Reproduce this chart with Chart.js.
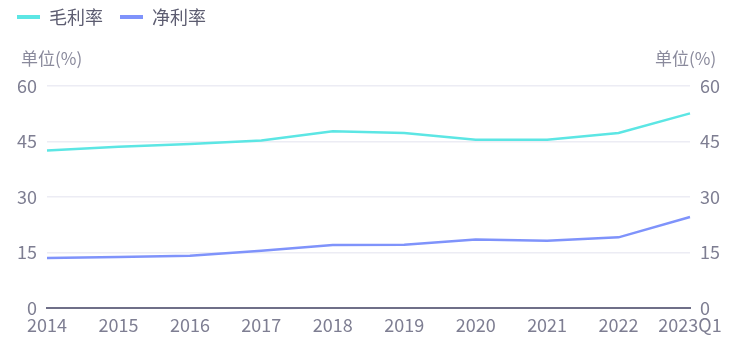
<!DOCTYPE html>
<html>
<head>
<meta charset="utf-8">
<script src="https://cdn.jsdelivr.net/npm/chart.js@4/dist/chart.umd.min.js"></script>
<style>
  body { margin: 0; background: #fff; }
  #wrap { position: relative; width: 743px; height: 349px; }
  .unit { position: absolute; top: 45px; font: 17px "Noto Sans CJK SC", sans-serif; color: #8a8a9c; }
</style>
</head>
<body>
<div id="wrap">
  <canvas id="myChart" width="743" height="349"></canvas>
  <span class="unit" style="left:21px">单位(%)</span>
  <span class="unit" style="left:655px">单位(%)</span>
</div>
<script>
'use strict';

var years = ['2014', '2015', '2016', '2017', '2018', '2019', '2020', '2021', '2022', '2023Q1'];
var grossMargin = [42.6, 43.6, 44.3, 45.3, 47.8, 47.3, 45.5, 45.5, 47.3, 52.6];
var netMargin = [13.5, 13.8, 14.1, 15.5, 17.0, 17.1, 18.5, 18.2, 19.1, 24.6];
var yTicks = [0, 15, 30, 45, 60];

var fontFamily = '"Noto Sans CJK SC", sans-serif';
var tickColor = '#7e7e92';

// legend band: fixed height so the plot starts where the reference does,
// and the items are nudged up into the corner
var legendSpacer = {
    id: 'legendSpacer',
    beforeInit: function (chart) {
        var legend = chart.legend;
        var fit = legend.fit;
        legend.fit = function () {
            fit.call(this);
            this.height = 86;
        };
        var draw = legend.draw;
        legend.draw = function () {
            var c = this.ctx;
            c.save();
            c.translate(0, -9);
            draw.call(this);
            c.restore();
        };
    }
};

var ctx = document.getElementById('myChart').getContext('2d');
var chart = new Chart(ctx, {
    type: 'line',
    data: {
        labels: years,
        datasets: [{
            label: '毛利率',
            data: grossMargin,
            borderColor: '#5ce6e4',
            backgroundColor: '#5ce6e4',
            borderWidth: 2.5,
            pointRadius: 0,
            yAxisID: 'y'
        }, {
            label: '净利率',
            data: netMargin,
            borderColor: '#7f93fb',
            backgroundColor: '#7f93fb',
            borderWidth: 2.5,
            pointRadius: 0,
            yAxisID: 'y1'
        }]
    },
    options: {
        responsive: false,
        animation: false,
        layout: { padding: 0 },
        plugins: {
            tooltip: { enabled: false },
            legend: {
                position: 'top',
                align: 'start',
                labels: {
                    font: { family: fontFamily, size: 18 },
                    color: '#5c5c70',
                    boxWidth: 23,
                    boxHeight: 4,
                    padding: 17,
                    generateLabels: function (c) {
                        return c.data.datasets.map(function (ds, i) {
                            return {
                                text: ds.label,
                                fillStyle: ds.borderColor,
                                strokeStyle: ds.borderColor,
                                lineWidth: 0,
                                fontColor: '#5c5c70',
                                datasetIndex: i
                            };
                        });
                    }
                }
            }
        },
        scales: {
            x: {
                offset: false,
                grid: { display: false, drawTicks: false },
                border: { display: true, color: '#6f6f88', width: 2 },
                ticks: {
                    font: { family: fontFamily, size: 18 },
                    color: tickColor,
                    padding: 6,
                    maxRotation: 0,
                    autoSkip: false
                },
                afterFit: function (scale) { scale.height = 41; }
            },
            y: {
                position: 'left',
                min: 0,
                max: 60,
                afterBuildTicks: function (scale) {
                    scale.ticks = yTicks.map(function (v) { return { value: v }; });
                },
                grid: { color: '#ececf4', lineWidth: 1.5, drawTicks: false },
                border: { display: false },
                ticks: {
                    font: { family: fontFamily, size: 18 },
                    color: tickColor,
                    padding: 10
                },
                afterFit: function (scale) { scale.width = 47; }
            },
            y1: {
                position: 'right',
                min: 0,
                max: 60,
                afterBuildTicks: function (scale) {
                    scale.ticks = yTicks.map(function (v) { return { value: v }; });
                },
                grid: { display: false, drawTicks: false },
                border: { display: false },
                ticks: {
                    font: { family: fontFamily, size: 18 },
                    color: tickColor,
                    padding: 10
                },
                afterFit: function (scale) { scale.width = 53; }
            }
        }
    },
    plugins: [legendSpacer]
});
</script>
</body>
</html>
